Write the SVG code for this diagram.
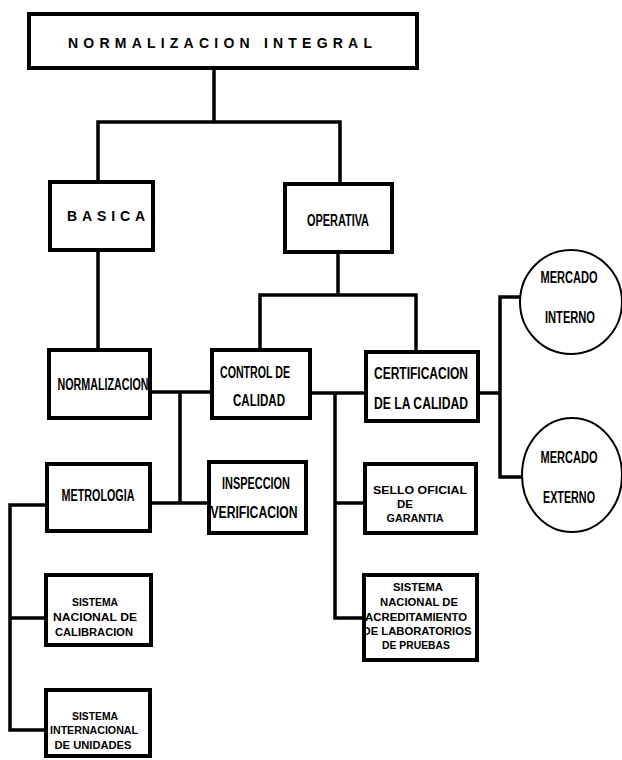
<svg xmlns="http://www.w3.org/2000/svg" width="622" height="760" viewBox="0 0 622 760">
<style>
.box{fill:#fff;stroke:#000;stroke-width:4}
.circ{fill:#fff;stroke:#000;stroke-width:2}
.ln{fill:none;stroke:#000;stroke-width:3.5;stroke-linecap:square}
text{font-family:"Liberation Sans",Arial,sans-serif;font-weight:bold;font-size:16px;fill:#000;text-anchor:middle;dominant-baseline:central}
.big{font-size:14px}
.sm{font-size:11.5px}
</style>
<rect width="622" height="760" fill="#fff"/>
<g id="connectors">
<path class="ln" d="M214 69 V122 M98 122 H340 M98 122 V182 M340 122 V184"/>
<path class="ln" d="M98 252 V350"/>
<path class="ln" d="M338 254 V295 M260 295 H416 M260 295 V350 M416 295 V352"/>
<path class="ln" d="M152 392 H210 M180 392 V503 M152 503 H207"/>
<path class="ln" d="M312 393 H364 M335 393 V618 M335 503 H363 M335 618 H362"/>
<path class="ln" d="M480 393 H500 M500 297 V477 M500 297 H521 M500 477 H523"/>
<path class="ln" d="M45 505 H10 V730 H44 M10 618 H44"/>
</g>
<g id="n-integral"><rect class="box" x="29" y="14" width="388" height="54"/><text class="big" x="220" y="43" textLength="304" lengthAdjust="spacing">NORMALIZACION INTEGRAL</text></g>
<g id="n-basica"><rect class="box" x="50" y="182" width="103" height="68"/><text class="big" x="106" y="216" textLength="78" lengthAdjust="spacing">BASICA</text></g>
<g id="n-operativa"><rect class="box" x="285" y="184" width="107" height="68"/><text x="338" y="220" textLength="62" lengthAdjust="spacingAndGlyphs">OPERATIVA</text></g>
<g id="n-normalizacion"><rect class="box" x="49" y="350" width="101" height="68"/><text x="103" y="384" textLength="91" lengthAdjust="spacingAndGlyphs">NORMALIZACION</text></g>
<g id="n-control"><rect class="box" x="212" y="350" width="98" height="68"/><text x="255" y="372" textLength="70" lengthAdjust="spacingAndGlyphs">CONTROL DE</text><text x="259" y="400" textLength="52" lengthAdjust="spacingAndGlyphs">CALIDAD</text></g>
<g id="n-certificacion"><rect class="box" x="366" y="352" width="112" height="69"/><text x="421" y="373" textLength="94" lengthAdjust="spacingAndGlyphs">CERTIFICACION</text><text x="421" y="403" textLength="94" lengthAdjust="spacingAndGlyphs">DE LA CALIDAD</text></g>
<g id="n-interno"><ellipse class="circ" cx="571" cy="302" rx="51" ry="52"/><text x="569" y="277" textLength="57" lengthAdjust="spacingAndGlyphs">MERCADO</text><text x="570" y="317" textLength="50" lengthAdjust="spacingAndGlyphs">INTERNO</text></g>
<g id="n-externo"><ellipse class="circ" cx="572" cy="475" rx="50" ry="57"/><text x="569" y="457" textLength="57" lengthAdjust="spacingAndGlyphs">MERCADO</text><text x="569" y="497" textLength="52" lengthAdjust="spacingAndGlyphs">EXTERNO</text></g>
<g id="n-metrologia"><rect class="box" x="47" y="464" width="103" height="67"/><text x="98" y="495" textLength="73" lengthAdjust="spacingAndGlyphs">METROLOGIA</text></g>
<g id="n-inspeccion"><rect class="box" x="209" y="462" width="97" height="71"/><text x="256" y="483" textLength="68" lengthAdjust="spacingAndGlyphs">INSPECCION</text><text x="254" y="512" textLength="87" lengthAdjust="spacingAndGlyphs">VERIFICACION</text></g>
<g id="n-sello"><rect class="box" x="365" y="464" width="111" height="69"/><text class="sm" x="420" y="490" textLength="94" lengthAdjust="spacingAndGlyphs">SELLO OFICIAL</text><text class="sm" x="405" y="504">DE</text><text class="sm" x="415" y="518" textLength="57" lengthAdjust="spacingAndGlyphs">GARANTIA</text></g>
<g id="n-acreditamiento"><rect class="box" x="364" y="575" width="113" height="85"/><text class="sm" x="418" y="587" textLength="50" lengthAdjust="spacingAndGlyphs">SISTEMA</text><text class="sm" x="419" y="602" textLength="78" lengthAdjust="spacingAndGlyphs">NACIONAL DE</text><text class="sm" x="416" y="617" textLength="102" lengthAdjust="spacingAndGlyphs">ACREDITAMIENTO</text><text class="sm" x="417" y="631" textLength="109" lengthAdjust="spacingAndGlyphs">DE LABORATORIOS</text><text class="sm" x="416" y="645" textLength="68" lengthAdjust="spacingAndGlyphs">DE PRUEBAS</text></g>
<g id="n-calibracion"><rect class="box" x="46" y="575" width="105" height="70"/><text class="sm" x="95" y="602" textLength="46" lengthAdjust="spacingAndGlyphs">SISTEMA</text><text class="sm" x="95" y="617" textLength="84" lengthAdjust="spacingAndGlyphs">NACIONAL DE</text><text class="sm" x="94" y="632" textLength="78" lengthAdjust="spacingAndGlyphs">CALIBRACION</text></g>
<g id="n-unidades"><rect class="box" x="46" y="690" width="104" height="66"/><text class="sm" x="95" y="716" textLength="46" lengthAdjust="spacingAndGlyphs">SISTEMA</text><text class="sm" x="94" y="730" textLength="88" lengthAdjust="spacingAndGlyphs">INTERNACIONAL</text><text class="sm" x="93" y="745" textLength="77" lengthAdjust="spacingAndGlyphs">DE UNIDADES</text></g>
</svg>
